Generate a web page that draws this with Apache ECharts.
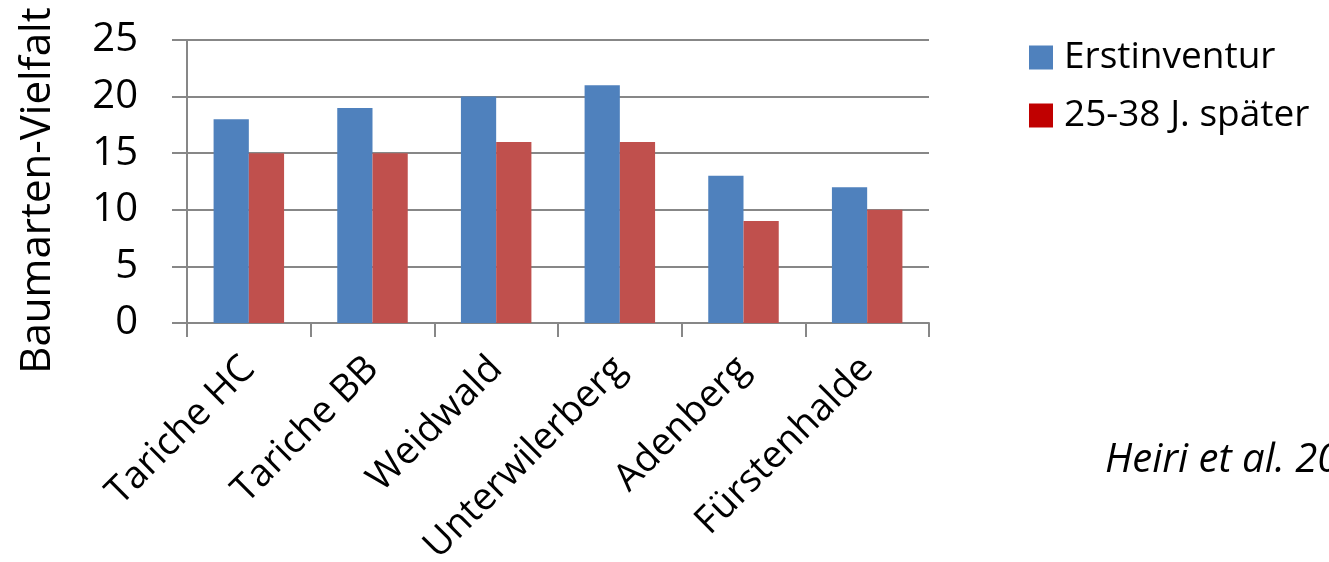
<!DOCTYPE html>
<html>
<head>
<meta charset="utf-8">
<script src="https://cdn.jsdelivr.net/npm/echarts@6/dist/echarts.min.js"></script>
<style>
  html, body { margin: 0; padding: 0; background: #ffffff; }
  #chart { width: 1329px; height: 562px; }
</style>
</head>
<body>
<div id="chart"></div>
<script>
// Tree species diversity per forest site: first inventory vs. 25-38 years later
const sites = ['Tariche HC', 'Tariche BB', 'Weidwald', 'Unterwilerberg', 'Adenberg', 'Fürstenhalde'];
const erstinventur = [18, 19, 20, 21, 13, 12];
const spaeter = [15, 15, 16, 16, 9, 10];
const seriesNames = ['Erstinventur', '25-38 J. später'];
const yAxisTitle = 'Baumarten-Vielfalt';
const sourceNote = 'Heiri et al. 20';

const FONT = '"Open Sans", "DejaVu Sans", sans-serif';
const AXIS_GREY = '#878787';

const chart = echarts.init(document.getElementById('chart'));
chart.setOption({
  animation: false,
  backgroundColor: '#ffffff',
  textStyle: { fontFamily: FONT, color: '#000000' },
  grid: {
    left: 187, right: 400, top: 40, bottom: 239,
    containLabel: false,
    outerBoundsMode: 'none'
  },
  legend: {
    orient: 'vertical',
    left: 1029,
    top: 39,
    padding: 0,
    itemWidth: 24,
    itemHeight: 24,
    itemGap: 21,
    icon: 'rect',
    textStyle: { fontFamily: FONT, fontSize: 37, color: '#000000', padding: [0, 0, 0, 6] },
    data: [
      { name: seriesNames[0], itemStyle: { color: '#4F81BD' } },
      { name: seriesNames[1], itemStyle: { color: '#C00000' } }
    ]
  },
  xAxis: {
    type: 'category',
    data: sites,
    axisLine: { show: true, lineStyle: { color: AXIS_GREY, width: 2 } },
    axisTick: { show: true, length: 14, alignWithLabel: false, lineStyle: { color: AXIS_GREY, width: 2 } },
    axisLabel: {
      rotate: 45,
      interval: 0,
      margin: 40,
      fontFamily: FONT,
      fontSize: 38,
      color: '#000000'
    }
  },
  yAxis: {
    type: 'value',
    min: 0,
    max: 25,
    interval: 5,
    name: yAxisTitle,
    nameLocation: 'middle',
    nameRotate: 90,
    nameGap: 128,
    nameTextStyle: { fontFamily: FONT, fontSize: 42, color: '#000000', padding: [0, 18, 0, 0] },
    axisLine: { show: true, lineStyle: { color: AXIS_GREY, width: 2 } },
    axisTick: { show: true, length: 15, lineStyle: { color: AXIS_GREY, width: 2 } },
    axisLabel: { margin: 49, fontFamily: FONT, fontSize: 40, color: '#000000' },
    splitLine: { show: true, lineStyle: { color: AXIS_GREY, width: 2 } }
  },
  series: [
    {
      name: seriesNames[0],
      type: 'bar',
      data: erstinventur,
      barGap: '0%',
      barCategoryGap: '43%',
      itemStyle: { color: '#4F81BD' }
    },
    {
      name: seriesNames[1],
      type: 'bar',
      data: spaeter,
      barGap: '0%',
      barCategoryGap: '43%',
      itemStyle: { color: '#C0504D' }
    }
  ],
  graphic: [
    {
      type: 'text',
      left: 1105,
      top: 441,
      style: {
        text: sourceNote,
        font: 'italic 40px ' + FONT,
        fill: '#000000'
      }
    }
  ]
});
</script>
</body>
</html>
